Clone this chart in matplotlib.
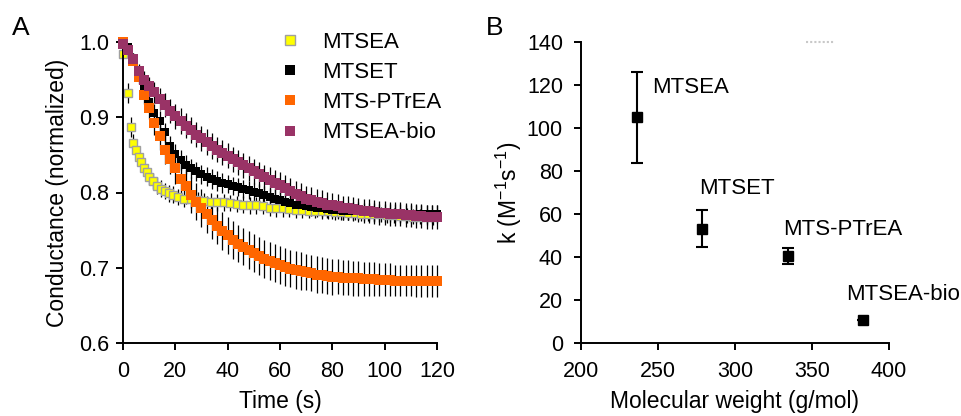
import numpy as np
import matplotlib
matplotlib.use("Agg")
import matplotlib.pyplot as plt
from matplotlib.lines import Line2D

plt.rcParams['font.family'] = ['Liberation Sans', 'DejaVu Sans']
plt.rcParams['mathtext.default'] = 'regular'

# ---------------- Panel A data ----------------
t_grid = np.arange(0, 121, 2)  # 0..120 s, 2 s sampling

t_mtsea = [0, 2, 3, 4, 5, 6, 7, 8, 9, 10, 11.5, 13, 14.5, 16, 17.5, 19,
           21, 23.5, 26, 28.5, 31, 33.5, 36, 38.5, 41, 43.5,
           46, 48.5, 51, 53.5, 56, 58.5, 61, 63.5, 66, 68.5,
           71, 73.5, 76, 78.5, 81, 83.5, 86, 88.5, 91, 93.5,
           96, 98.5, 101, 103.5, 106, 108.5, 111, 113.5, 116, 118.5]
g_mtsea = [0.984, 0.932, 0.887, 0.866, 0.856, 0.847, 0.840, 0.833, 0.827, 0.821,
           0.815, 0.809, 0.805, 0.802, 0.799, 0.797,
           0.794, 0.792, 0.791, 0.790, 0.789, 0.788, 0.787, 0.787, 0.786, 0.785,
           0.784, 0.783, 0.783, 0.782, 0.780, 0.779, 0.779, 0.778, 0.777, 0.777,
           0.776, 0.776, 0.775, 0.775, 0.774, 0.774, 0.773, 0.773, 0.772, 0.772,
           0.771, 0.771, 0.770, 0.770, 0.769, 0.769, 0.768, 0.768, 0.767, 0.767]
e_mtsea = [0.004, 0.013, 0.013, 0.012, 0.012, 0.012, 0.011, 0.011, 0.011, 0.011,
           0.011, 0.011, 0.011, 0.011, 0.011, 0.011,
           0.011, 0.011, 0.011, 0.011, 0.011, 0.011, 0.011, 0.011, 0.011, 0.011,
           0.011, 0.011, 0.011, 0.011, 0.011, 0.011, 0.011, 0.011, 0.011, 0.011,
           0.010, 0.010, 0.010, 0.010, 0.010, 0.010, 0.010, 0.010, 0.010, 0.010,
           0.010, 0.010, 0.010, 0.010, 0.010, 0.010, 0.010, 0.010, 0.010, 0.010]

g_mtset = [1.000, 0.993, 0.978, 0.958, 0.938, 0.920, 0.905, 0.895, 0.880, 0.862,
           0.851, 0.843, 0.837, 0.832, 0.828, 0.824, 0.821, 0.818, 0.815, 0.813,
           0.811, 0.809, 0.807, 0.805, 0.803, 0.801, 0.799, 0.797, 0.794, 0.792,
           0.790, 0.788, 0.786, 0.784, 0.783, 0.782, 0.781, 0.780, 0.779, 0.778,
           0.777, 0.777, 0.776, 0.776, 0.775, 0.775, 0.774, 0.774, 0.774, 0.773,
           0.773, 0.773, 0.773, 0.773, 0.772, 0.772, 0.772, 0.772, 0.772, 0.772,
           0.772]
e_mtset = [0.000, 0.004, 0.007, 0.009, 0.011, 0.012, 0.013, 0.013, 0.013, 0.013,
           0.013, 0.013, 0.013, 0.013, 0.013, 0.013, 0.013, 0.013, 0.013, 0.013,
           0.012, 0.012, 0.012, 0.012, 0.012, 0.012, 0.012, 0.012, 0.012, 0.012,
           0.012, 0.012, 0.012, 0.012, 0.012, 0.012, 0.012, 0.012, 0.012, 0.012,
           0.012, 0.012, 0.012, 0.012, 0.012, 0.012, 0.012, 0.012, 0.012, 0.012,
           0.012, 0.012, 0.012, 0.012, 0.012, 0.012, 0.012, 0.012, 0.012, 0.012,
           0.012]

g_ptrea = [1.000, 0.990, 0.975, 0.953, 0.930, 0.912, 0.893, 0.875, 0.857, 0.845,
           0.832, 0.818, 0.808, 0.797, 0.788, 0.779, 0.771, 0.763, 0.756, 0.749,
           0.743, 0.737, 0.732, 0.728, 0.724, 0.720, 0.716, 0.712, 0.709, 0.706,
           0.704, 0.701, 0.699, 0.697, 0.696, 0.694, 0.693, 0.691, 0.690, 0.689,
           0.688, 0.688, 0.687, 0.687, 0.686, 0.686, 0.685, 0.685, 0.685, 0.684,
           0.684, 0.684, 0.683, 0.683, 0.683, 0.683, 0.682, 0.682, 0.682, 0.682,
           0.682]
e_ptrea = [0.000, 0.003, 0.006, 0.009, 0.012, 0.014, 0.016, 0.018, 0.019, 0.020,
           0.021, 0.022, 0.023, 0.024, 0.024, 0.025, 0.025, 0.025, 0.025, 0.025,
           0.025, 0.025, 0.025, 0.025, 0.025, 0.025, 0.025, 0.025, 0.025, 0.025,
           0.025, 0.025, 0.025, 0.025, 0.025, 0.024, 0.024, 0.024, 0.024, 0.024,
           0.024, 0.023, 0.023, 0.023, 0.023, 0.023, 0.022, 0.022, 0.022, 0.022,
           0.022, 0.022, 0.021, 0.021, 0.021, 0.021, 0.021, 0.021, 0.021, 0.021,
           0.021]

g_bio = [0.998, 0.990, 0.978, 0.962, 0.950, 0.941, 0.933, 0.924, 0.916, 0.908,
         0.901, 0.895, 0.889, 0.883, 0.877, 0.872, 0.867, 0.862, 0.857, 0.853,
         0.849, 0.844, 0.840, 0.836, 0.832, 0.828, 0.824, 0.820, 0.817, 0.813,
         0.810, 0.806, 0.802, 0.798, 0.795, 0.792, 0.790, 0.788, 0.786, 0.784,
         0.783, 0.782, 0.780, 0.779, 0.778, 0.777, 0.776, 0.775, 0.774, 0.773,
         0.773, 0.772, 0.772, 0.771, 0.770, 0.770, 0.769, 0.769, 0.768, 0.768,
         0.767]
e_bio = [0.000, 0.004, 0.007, 0.009, 0.011, 0.013, 0.014, 0.015, 0.016, 0.016,
         0.017, 0.017, 0.017, 0.017, 0.017, 0.017, 0.017, 0.017, 0.017, 0.017,
         0.017, 0.017, 0.017, 0.017, 0.017, 0.017, 0.017, 0.017, 0.017, 0.017,
         0.017, 0.017, 0.017, 0.017, 0.017, 0.017, 0.017, 0.017, 0.017, 0.017,
         0.016, 0.016, 0.016, 0.016, 0.016, 0.016, 0.016, 0.016, 0.016, 0.016,
         0.016, 0.016, 0.016, 0.016, 0.016, 0.016, 0.016, 0.016, 0.016, 0.016,
         0.016]

labels_A = ['MTSEA', 'MTSET', 'MTS-PTrEA', 'MTSEA-bio']
colors_A = ['#FFFF00', '#000000', '#FF6600', '#993366']
edges_A = ['#A0A0A0', '#000000', '#FF6600', '#993366']

# ---------------- Panel B data ----------------
names_B = ['MTSEA', 'MTSET', 'MTS-PTrEA', 'MTSEA-bio']
mw_B = [236.5, 278.5, 334.5, 383]
k_B = [105, 53.2, 40.3, 10.7]
kerr_B = [21.2, 8.7, 3.7, 0.0]
label_x_B = [246, 277, 331, 372]
label_y_B = [119, 72, 53, 22.5]
dotted_x_B = [346, 365]
dotted_y_B = [140, 140]

# ---------------- Figure ----------------
fig = plt.figure(figsize=(9.62, 4.16), dpi=100)
axA = fig.add_axes([123/962, 1-343/416, 314/962, 301/416])
axB = fig.add_axes([581/962, 1-343/416, 308/962, 301/416])

TICK_FS = 15.5
LAB_FS = 16.5

series = [(t_mtsea, g_mtsea, e_mtsea), (t_grid, g_mtset, e_mtset),
          (t_grid, g_ptrea, e_ptrea), (t_grid, g_bio, e_bio)]
msizes = [5.2, 6.3, 6.5, 6.8]
for i, (t, g, e) in enumerate(series):
    axA.errorbar(t, g, yerr=e, fmt='none', ecolor='black', elinewidth=0.9,
                 capsize=0, zorder=1, clip_on=False)
for i, (t, g, e) in enumerate(series):
    axA.plot(t, g, linestyle='none', marker='s', ms=msizes[i],
             mfc=colors_A[i], mec=edges_A[i], mew=1.0 if i == 0 else 0.0,
             zorder=2 + i, clip_on=False)

axA.set_xlim(0, 120)
axA.set_ylim(0.6, 1.0)
axA.set_xticks([0, 20, 40, 60, 80, 100, 120])
axA.set_yticks([0.6, 0.7, 0.8, 0.9, 1.0])
axA.set_yticklabels(['0.6', '0.7', '0.8', '0.9', '1.0'])
axA.set_xlabel('Time (s)', fontsize=LAB_FS, labelpad=5.5)
axA.set_ylabel('Conductance (normalized)', fontsize=LAB_FS, labelpad=7)

handles = [Line2D([], [], linestyle='none', marker='s', ms=6.8,
                  mfc=colors_A[i], mec=edges_A[i], mew=1.0 if i == 0 else 0.0)
           for i in range(4)]
fig.legend(handles, labels_A, loc='upper left',
           bbox_to_anchor=(280/962, 1-32/416), frameon=False,
           fontsize=16, handlelength=0.9, handletextpad=0.99,
           labelspacing=0.41, borderpad=0, borderaxespad=0)

# Panel B
axB.errorbar(mw_B, k_B, yerr=kerr_B, fmt='none', ecolor='black',
             elinewidth=1.5, capsize=4, capthick=1.5, zorder=2)
axB.plot(mw_B, k_B, linestyle='none', marker='s', ms=7.8, color='black',
         zorder=3)
for nm, lx, ly in zip(names_B, label_x_B, label_y_B):
    axB.text(lx, ly, nm, fontsize=16, ha='left', va='center', clip_on=False)
axB.plot(dotted_x_B, dotted_y_B, linestyle=(0, (1, 1)), color='#C8C8C8',
         lw=1.5, clip_on=False)
axB.set_xlim(200, 400)
axB.set_ylim(0, 140)
axB.set_xticks([200, 250, 300, 350, 400])
axB.set_yticks([0, 20, 40, 60, 80, 100, 120, 140])
axB.set_xlabel('Molecular weight (g/mol)', fontsize=LAB_FS, labelpad=5.5)
axB.set_ylabel(r'k (M$^{-1}$s$^{-1}$)', fontsize=LAB_FS, labelpad=2)

for ax in (axA, axB):
    for s in ('top', 'right'):
        ax.spines[s].set_visible(False)
    for s in ('left', 'bottom'):
        ax.spines[s].set_linewidth(1.4)
    ax.tick_params(axis='both', which='major', direction='out', length=5,
                   width=1.4, labelsize=TICK_FS)
    ax.tick_params(axis='x', pad=8)
axA.tick_params(axis='y', pad=5)
axB.tick_params(axis='y', pad=8)

fig.text(12/962, 1-28/416, 'A', fontsize=19, ha='left', va='center')
fig.text(486/962, 1-28/416, 'B', fontsize=19, ha='left', va='center')

fig.savefig('out.png', dpi=100)
